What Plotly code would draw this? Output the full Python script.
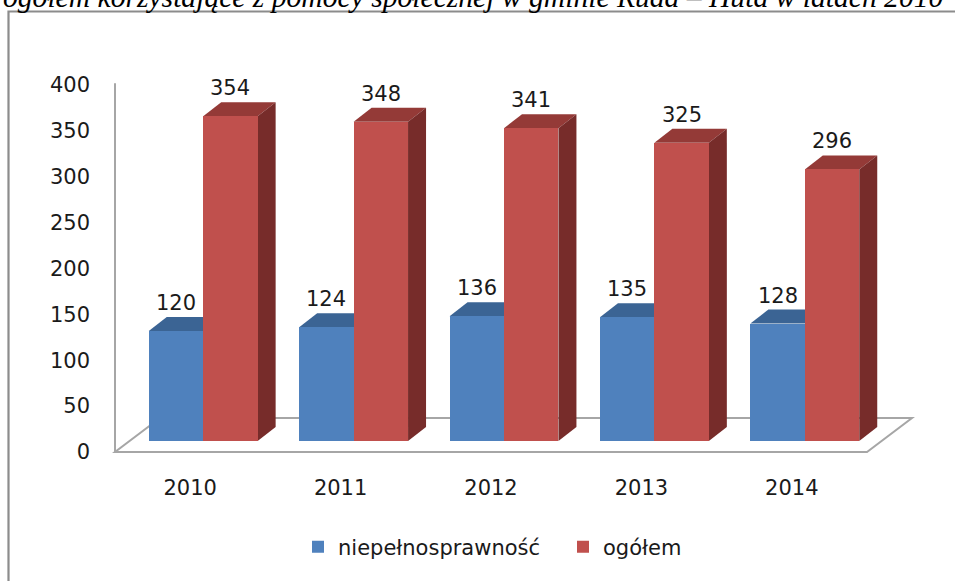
import plotly.graph_objects as go

# ---------------- data ----------------
years = ["2010", "2011", "2012", "2013", "2014"]
niepelnosprawnosc = [120, 124, 136, 135, 128]
ogolem = [354, 348, 341, 325, 296]
series_names = ["niepełnosprawność", "ogółem"]
y_ticks = [0, 50, 100, 150, 200, 250, 300, 350, 400]
title_text = "ogółem korzystające z pomocy społecznej w gminie Ruda – Huta w latach 2010"

# ---------------- style / geometry ----------------
W, H = 955, 581
ML, MR, MT, MB = 105, 20, 70, 111
PW, PH = W - ML - MR, H - MT - MB
PX_PER_CAT = 150.4
PX_PER_UNIT = 0.9175
FLOOR_LEFT_PX = 115
BAR_BASE_PX = 441
LABEL_ZERO_PX = 452
DX_PX, DY_PX = 18, 14          # bar depth
FLOOR_DX_PX, FLOOR_DY_PX = 45, 34
BAR_W = 0.362
BAR_SHIFT = 13 / PX_PER_CAT    # bars sit behind the floor front edge

C_BLUE, C_BLUE_TOP = "#4F81BD", "#3B6494"
C_RED, C_RED_TOP, C_RED_SIDE = "#C0504D", "#943A37", "#772C2A"
C_LINE = "#A6A6A6"
FONT = "DejaVu Sans"
FS = 21
TXT = "#1a1a1a"

x_lo = -0.5 - (FLOOR_LEFT_PX - ML) / PX_PER_CAT
x_hi = x_lo + PW / PX_PER_CAT
y_lo = -(MT + PH - BAR_BASE_PX) / PX_PER_UNIT
y_hi = y_lo + PH / PX_PER_UNIT
y2_lo = -(MT + PH - LABEL_ZERO_PX) / PX_PER_UNIT
y2_hi = y2_lo + PH / PX_PER_UNIT

ddx = DX_PX / PX_PER_CAT
ddy = DY_PX / PX_PER_UNIT

xpos = list(range(len(years)))
off_blue = BAR_SHIFT - BAR_W
off_red = BAR_SHIFT

fig = go.Figure()
fig.add_trace(go.Bar(x=xpos, y=niepelnosprawnosc, name=series_names[0], width=BAR_W,
                     offset=off_blue, marker=dict(color=C_BLUE, line=dict(width=0))))
fig.add_trace(go.Bar(x=xpos, y=ogolem, name=series_names[1], width=BAR_W,
                     offset=off_red, marker=dict(color=C_RED, line=dict(width=0))))
# dummy trace for the visible label axis
fig.add_trace(go.Scatter(x=[xpos[0]], y=[y_ticks[0]], yaxis="y2", mode="markers",
                         marker=dict(opacity=0), showlegend=False, hoverinfo="skip"))


def px2paper_x(px):
    return (px - ML) / PW


def px2paper_y(py):
    return (MT + PH - py) / PH


shapes = []
# outer frame
shapes.append(dict(type="path", xref="paper", yref="paper", layer="below",
                   path=f"M {px2paper_x(8.5)},{px2paper_y(700)} L {px2paper_x(8.5)},{px2paper_y(11.5)} L {px2paper_x(1100)},{px2paper_y(11.5)}",
                   line=dict(color="#8C8C8C", width=2.2)))
# floor
fdx = FLOOR_DX_PX / PX_PER_CAT
fdy = FLOOR_DY_PX / PX_PER_UNIT
n = len(years)
shapes.append(dict(type="path", xref="x", yref="y2", layer="below",
                   path=f"M -0.5,0 L {n-0.5},0 L {n-0.5+fdx},{fdy} L {-0.5+fdx},{fdy} Z",
                   line=dict(color=C_LINE, width=2), fillcolor="rgba(0,0,0,0)"))
# vertical axis line
shapes.append(dict(type="line", xref="x", yref="y2", layer="below",
                   x0=-0.5, x1=-0.5, y0=y_ticks[0], y1=y_ticks[-1] + 2,
                   line=dict(color=C_LINE, width=2)))

annotations = []
for i, (vb, vr) in enumerate(zip(niepelnosprawnosc, ogolem)):
    bl, br = i + off_blue, i + off_blue + BAR_W
    rl, rr = i + off_red, i + off_red + BAR_W
    # blue top face
    shapes.append(dict(type="path", xref="x", yref="y", layer="below",
                       path=f"M {bl},{vb} L {br},{vb} L {br+ddx},{vb+ddy} L {bl+ddx},{vb+ddy} Z",
                       fillcolor=C_BLUE_TOP, line=dict(width=0)))
    # red top face
    shapes.append(dict(type="path", xref="x", yref="y", layer="below",
                       path=f"M {rl},{vr} L {rr},{vr} L {rr+ddx},{vr+ddy} L {rl+ddx},{vr+ddy} Z",
                       fillcolor=C_RED_TOP, line=dict(width=0)))
    # red side face
    shapes.append(dict(type="path", xref="x", yref="y", layer="below",
                       path=f"M {rr},0 L {rr+ddx},{ddy} L {rr+ddx},{vr+ddy} L {rr},{vr} Z",
                       fillcolor=C_RED_SIDE, line=dict(width=0)))
    for xc, v in ((bl + BAR_W / 2, vb), (rl + BAR_W / 2, vr)):
        annotations.append(dict(x=xc, y=v, xref="x", yref="y", text=str(v), showarrow=False,
                                yanchor="middle", yshift=DY_PX + 14,
                                font=dict(family=FONT, size=FS, color=TXT)))

annotations.append(dict(x=px2paper_x(1), y=px2paper_y(15), xref="paper", yref="paper",
                        xanchor="left", yanchor="bottom", showarrow=False,
                        text=f"<i>{title_text}</i>",
                        font=dict(family="Liberation Serif", size=29.6, color="#000")))

fig.update_layout(
    width=W, height=H, margin=dict(l=ML, r=MR, t=MT, b=MB, autoexpand=False),
    paper_bgcolor="white", plot_bgcolor="rgba(0,0,0,0)",
    barmode="overlay", bargap=0,
    showlegend=True,
    legend=dict(orientation="h", x=px2paper_x(298), xanchor="left",
                y=px2paper_y(547), yanchor="middle",
                font=dict(family=FONT, size=FS, color=TXT),
                entrywidth=220, itemclick=False),
    xaxis=dict(range=[x_lo, x_hi], tickmode="array", tickvals=xpos, ticktext=years,
               showgrid=False, zeroline=False, showline=False, ticks="",
               ticklabelstandoff=3,
               tickfont=dict(family=FONT, size=FS, color=TXT)),
    yaxis=dict(range=[y_lo, y_hi], visible=False, showgrid=False, zeroline=False),
    yaxis2=dict(range=[y2_lo, y2_hi], overlaying="y", side="left", anchor="x",
                tickmode="array", tickvals=y_ticks, showgrid=False, zeroline=False,
                showline=False, ticks="", ticklabelstandoff=14,
                tickfont=dict(family=FONT, size=FS, color=TXT)),
    shapes=shapes, annotations=annotations,
)

fig.write_html("out.html", config={"displayModeBar": False},
               post_script="document.body.style.margin='0px';")
